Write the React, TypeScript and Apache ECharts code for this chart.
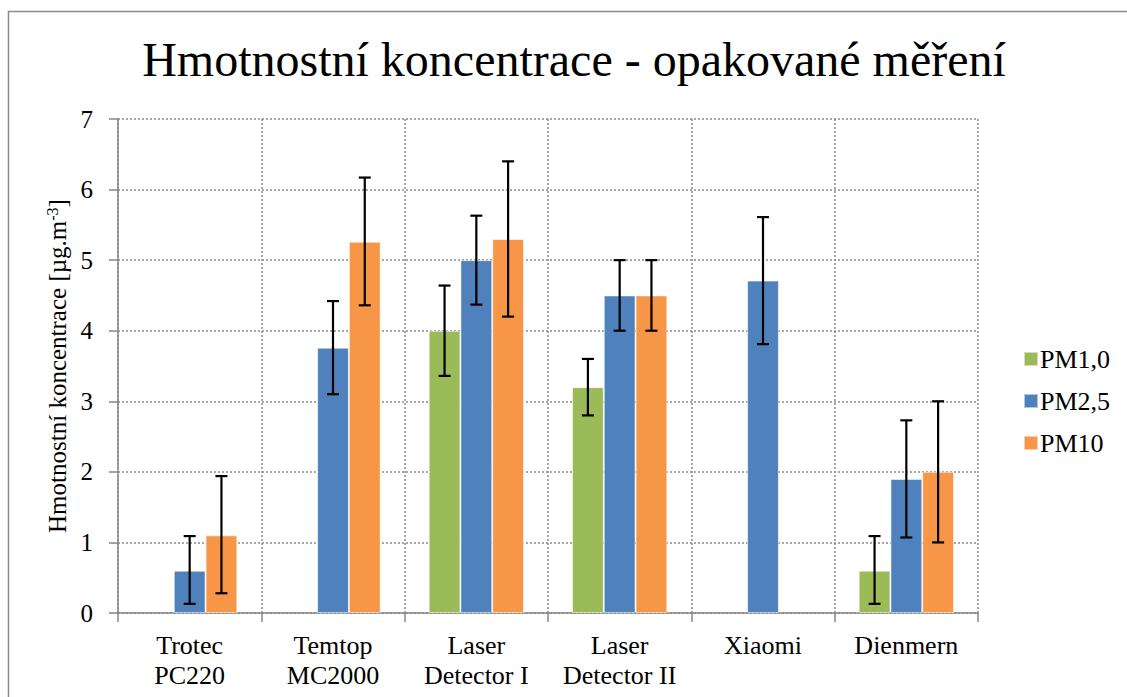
import React, { useEffect, useRef } from "react";
import * as echarts from "echarts";

const titleText = "Hmotnostní koncentrace - opakované měření";
const categories = [
  "Trotec\nPC220",
  "Temtop\nMC2000",
  "Laser\nDetector I",
  "Laser\nDetector II",
  "Xiaomi",
  "Dienmern",
];
const seriesNames = ["PM1,0", "PM2,5", "PM10"];
const seriesColors = ["#9BBB59", "#4F81BD", "#F79646"];

const pm1 = ["-", "-", 4.0, 3.2, "-", 0.6];
const pm25 = [0.6, 3.76, 5.0, 4.5, 4.71, 1.9];
const pm10 = [1.1, 5.26, 5.3, 4.5, "-", 2.0];

const pm1Low = [null, null, 3.36, 2.8, null, 0.13];
const pm1High = [null, null, 4.64, 3.6, null, 1.09];
const pm25Low = [0.13, 3.1, 4.37, 4.0, 3.81, 1.07];
const pm25High = [1.09, 4.42, 5.63, 5.0, 5.61, 2.73];
const pm10Low = [0.28, 4.36, 4.2, 4.0, null, 1.0];
const pm10High = [1.94, 6.17, 6.4, 5.0, null, 3.0];

const yTicks = { min: 0, max: 7, interval: 1 };

const FONT = "Liberation Serif";
const CAT_GAP = 0.335;

export default function App() {
  const ref = useRef<HTMLDivElement>(null);
  useEffect(() => {
    if (!ref.current) return;
    const chart = echarts.init(ref.current, null, { renderer: "svg" });
    const values = [pm1, pm25, pm10];
    const lows = [pm1Low, pm25Low, pm10Low];
    const highs = [pm1High, pm25High, pm10High];
    const errData: any[] = [];
    for (let s = 0; s < 3; s++) {
      for (let c = 0; c < categories.length; c++) {
        if (lows[s][c] != null && highs[s][c] != null) {
          errData.push([c, lows[s][c], highs[s][c], s]);
        }
      }
    }
    const barSeries = seriesNames.map((name, i) => ({
      name,
      type: "bar",
      data: values[i],
      barGap: "0%",
      barCategoryGap: CAT_GAP * 100 + "%",
      itemStyle: {
        color: seriesColors[i],
        borderColor: "rgba(255,255,255,0.55)",
        borderWidth: 1,
      },
      z: 2,
    }));
    const errSeries = {
      type: "custom",
      name: "err",
      data: errData,
      encode: { x: 0, y: [1, 2] },
      z: 10,
      silent: true,
      renderItem: (params: any, api: any) => {
        const c = api.value(0);
        const lo = api.value(1);
        const hi = api.value(2);
        const s = api.value(3);
        const band = api.size([1, 0])[0];
        const barW = (band * (1 - CAT_GAP)) / 3;
        const x = api.coord([c, 0])[0] + (s - 1) * barW;
        const yLo = api.coord([c, lo])[1];
        const yHi = api.coord([c, hi])[1];
        const cap = 6;
        const st = { stroke: "#000", lineWidth: 2.2 };
        return {
          type: "group",
          children: [
            { type: "line", shape: { x1: x, y1: yLo, x2: x, y2: yHi }, style: st },
            { type: "line", shape: { x1: x - cap, y1: yHi, x2: x + cap, y2: yHi }, style: st },
            { type: "line", shape: { x1: x - cap, y1: yLo, x2: x + cap, y2: yLo }, style: st },
          ],
        };
      },
    };
    chart.setOption({
      animation: false,
      backgroundColor: "#fff",
      textStyle: { fontFamily: FONT, color: "#000" },
      title: {
        text: titleText,
        left: 569,
        top: 30,
        textAlign: "center",
        textStyle: { fontFamily: FONT, fontSize: 48, fontWeight: "normal", color: "#000" },
      },
      legend: {
        orient: "vertical",
        left: 1018,
        top: 341,
        itemWidth: 14,
        itemHeight: 14,
        itemGap: 16,
        icon: "rect",
        data: seriesNames,
        textStyle: { fontFamily: FONT, fontSize: 26, color: "#000", lineHeight: 26, padding: [0, 0, 0, -3] },
      },
      graphic: [
        {
          type: "rect",
          shape: { x: 8.5, y: 11.5, width: 1130, height: 700 },
          style: { fill: "none", stroke: "#8c8c8c", lineWidth: 1.5 },
          silent: true,
        },
      ],
      grid: { left: 118, right: 149, top: 119, bottom: 84 },
      xAxis: {
        type: "category",
        data: categories,
        axisLine: { show: true, lineStyle: { color: "#868686", width: 1.5 } },
        axisTick: { show: true, length: 9, lineStyle: { color: "#868686", width: 1.5 } },
        splitLine: { show: true, lineStyle: { color: "#8a8a8a", type: [2, 2], width: 1.5 } },
        axisLabel: {
          fontFamily: FONT,
          fontSize: 26,
          color: "#000",
          lineHeight: 30,
          margin: 17,
          interval: 0,
        },
      },
      yAxis: {
        type: "value",
        min: yTicks.min,
        max: yTicks.max,
        interval: yTicks.interval,
        name: "{m|Hmotnostní koncentrace [µg.m}{s|-3}{m|]}",
        nameLocation: "middle",
        nameGap: 46,
        nameRotate: 90,
        nameTextStyle: {
          fontFamily: FONT,
          color: "#000",
          rich: {
            m: { fontFamily: FONT, fontSize: 25, color: "#000", lineHeight: 26 },
            s: { fontFamily: FONT, fontSize: 16, color: "#000", verticalAlign: "top", lineHeight: 26 },
          },
        },
        axisLine: { show: true, lineStyle: { color: "#868686", width: 1.5 } },
        axisTick: { show: true, length: 9, lineStyle: { color: "#868686", width: 1.5 } },
        splitLine: { show: true, lineStyle: { color: "#8a8a8a", type: [2, 2], width: 1.5 } },
        axisLabel: { fontFamily: FONT, fontSize: 25, color: "#000", margin: 25 },
      },
      series: [...barSeries, errSeries],
    });
    return () => chart.dispose();
  }, []);
  return (
    <div
      ref={ref}
      style={{ position: "absolute", left: 0, top: 0, width: 1127, height: 697 }}
    />
  );
}
